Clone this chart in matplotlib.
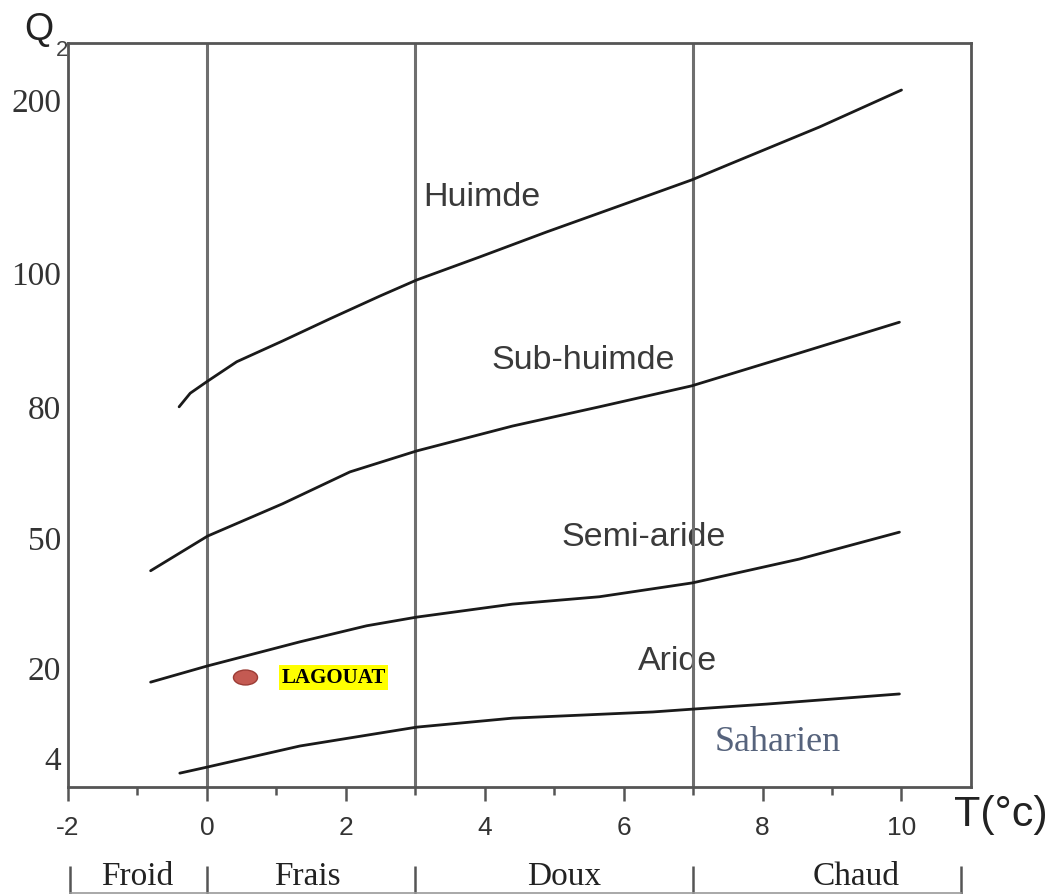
import numpy as np
import matplotlib
matplotlib.use("Agg")
import matplotlib.pyplot as plt
from matplotlib.path import Path
from matplotlib.transforms import Affine2D

plt.rcParams["axes.unicode_minus"] = False

# Emberger climagram, values
# temperature of the coldest month m (°C) and pluviothermic quotient Q2

humide_t = [-0.40, -0.24, 0.01, 0.43, 1.09, 1.77, 2.49, 3.02, 3.93, 4.89, 5.94, 6.98, 7.53, 8.82, 10.0]
humide_q = [79.8, 81.9, 83.7, 86.6, 89.7, 93.0, 96.4, 98.8, 108.7, 123.1, 138.2, 153.2, 162.4, 183.8, 205.1]

subhumide_t = [-0.81, 0.01, 1.09, 2.06, 3.02, 4.40, 5.65, 6.98, 8.53, 9.97]
subhumide_q = [42.2, 50.2, 57.6, 64.9, 69.7, 75.4, 79.8, 83.0, 87.9, 92.5]

semiaride_t = [-0.81, 0.0, 1.34, 2.30, 3.02, 4.40, 5.65, 6.99, 8.53, 9.97]
semiaride_q = [17.3, 20.2, 25.8, 29.5, 31.5, 34.5, 36.2, 39.4, 44.9, 51.1]

aride_t = [-0.39, 0.0, 1.34, 3.02, 4.40, 6.42, 6.99, 8.06, 9.97]
aride_q = [1.3, 2.3, 5.95, 9.3, 10.9, 12.0, 12.5, 13.4, 15.2]

curves_t = [humide_t, subhumide_t, semiaride_t, aride_t]
curves_q = [humide_q, subhumide_q, semiaride_q, aride_q]

# zone names and where they are written (T, Q2)
zone_names = ["Huimde", "Sub-huimde", "Semi-aride", "Aride"]
zone_t = [3.96, 5.42, 6.29, 6.78]
zone_q = [143.9, 87.0, 50.0, 21.4]

# winter variants
winter_names = ["Froid", "Frais", "Doux", "Chaud"]
winter_bounds = [-1.97, 0, 3, 7, 10.85]
winter_label_t = [-1.0, 1.45, 5.15, 9.35]
limits_t = [0, 3, 7]

# station
station = "LAGOUAT"
station_t = 0.55
station_q = 18.2

q_ticks = [4, 20, 50, 80, 100, 200]
t_major = [-2, 0, 2, 4, 6, 8, 10]
t_minor = [-1, 1, 3, 5, 7, 9]

# the Q2 axis of the original is not linear: map tick values to heights
Q_ANCH = [-20, -1, 4, 20, 50, 80, 100, 200, 232, 400]
P_ANCH = [-114, 0, 30, 120, 250, 381, 515, 688, 744, 1038]


def q_forward(q):
    return np.interp(q, Q_ANCH, P_ANCH)


def q_inverse(p):
    return np.interp(p, P_ANCH, Q_ANCH)


SANS = ["Liberation Sans", "DejaVu Sans"]
SERIF = ["Liberation Serif", "DejaVu Serif"]
AXIS_GREY = "#555555"

fig = plt.figure(figsize=(10.57, 8.95), dpi=100)
ax = fig.add_axes([0.0643, 0.1196, 0.8543, 0.8313])

ax.set_yscale("function", functions=(q_forward, q_inverse))
ax.set_xlim(-2, 11)
ax.set_ylim(-1, 232)

# the curves
for t, q in zip(curves_t, curves_q):
    ax.plot(t, q, color="#1a1a1a", lw=2.0, solid_capstyle="round",
            solid_joinstyle="round", zorder=3)

# thermal limits
for x in limits_t:
    ax.axvline(x, color="#6f6f6f", lw=2.2, zorder=2)

# zone names
for name, t, q in zip(zone_names, zone_t, zone_q):
    ax.text(t, q, name, ha="center", va="center", fontsize=24.5,
            family=SANS, color="#3a3a3a", zorder=1)

ax.text(8.22, 6.8, "Saharien", ha="center", va="center", fontsize=26,
        family=SERIF, color="#56637c", zorder=1)

# station marker
ellipse = Path(Affine2D().scale(1.0, 0.62).transform(Path.unit_circle().vertices),
               Path.unit_circle().codes)
ax.scatter([station_t], [station_q], marker=ellipse, s=300,
           color="#c45a52", edgecolors="#9c3c35", linewidths=1.0, zorder=4)
ax.text(station_t + 0.52, station_q, station, ha="left", va="center",
        fontsize=15, fontweight="bold", family=SERIF, color="black",
        bbox=dict(boxstyle="square,pad=0.12", fc="#ffff00", ec="none"), zorder=4)

# axes styling
for sp in ax.spines.values():
    sp.set_color(AXIS_GREY)
    sp.set_linewidth(2.0)

ax.set_xticks(t_major)
ax.set_xticks(t_minor, minor=True)
ax.tick_params(axis="x", which="major", direction="out", length=10, width=1.8,
               color=AXIS_GREY, pad=10, labelsize=19, labelcolor="#333333")
ax.tick_params(axis="x", which="minor", direction="out", length=6, width=1.8,
               color=AXIS_GREY)
for lab in ax.get_xticklabels():
    lab.set_family(SANS)

ax.set_yticks(q_ticks)
ax.set_yticklabels([str(v) for v in q_ticks])
ax.yaxis.set_minor_locator(matplotlib.ticker.NullLocator())
ax.tick_params(axis="y", which="major", length=0, pad=5, labelsize=24,
               labelcolor="#333333")
for lab in ax.get_yticklabels():
    lab.set_family(SERIF)

# winter variants row under the axis
trans = ax.get_xaxis_transform()
ax.vlines(winter_bounds, -0.106, -0.146, transform=trans, color="#555555",
          lw=1.8, clip_on=False)
for name, t in zip(winter_names, winter_label_t):
    ax.text(t, -0.119, name, transform=trans, ha="center", va="center",
            fontsize=24, family=SERIF, color="#222222")
ax.plot([winter_bounds[0], winter_bounds[-1]], [-0.143, -0.143], transform=trans,
        color="#9a9a9a", lw=1.2, clip_on=False)

# axis titles
fig.text(0.037, 0.966, "Q", ha="center", va="center", fontsize=27,
         family=SANS, color="#222222")
fig.text(0.0585, 0.944, "2", ha="center", va="center", fontsize=16,
         family=SANS, color="#444444")
fig.text(0.9030, 0.089, "T(°c)", ha="left", va="center", fontsize=31,
         family=SANS, color="#222222")

fig.savefig("out.png", dpi=100, facecolor="white")
